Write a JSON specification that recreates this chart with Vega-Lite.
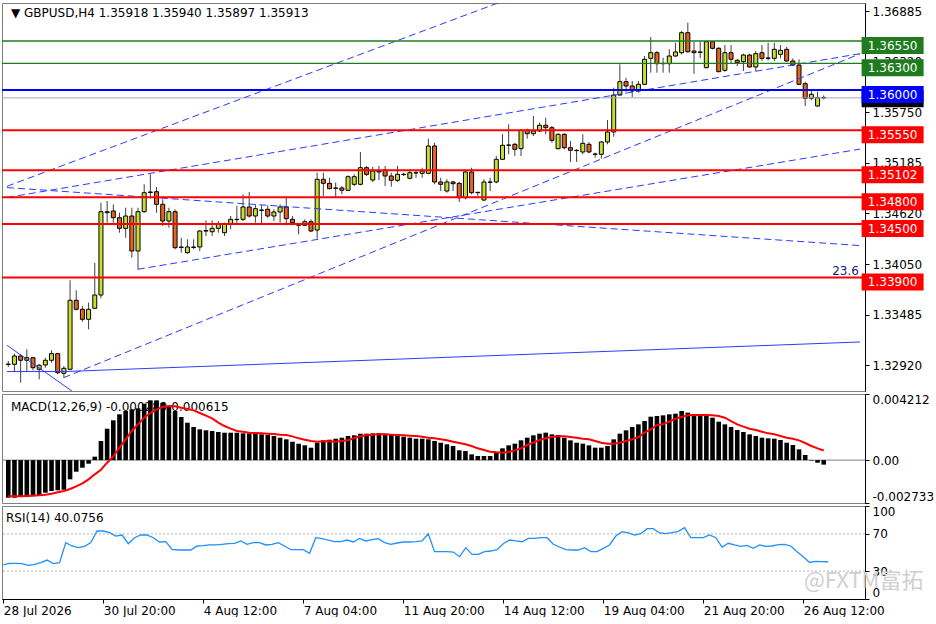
{
  "$schema": "https://vega.github.io/schema/vega-lite/v6.json",
  "background": "white",
  "padding": {"left": 1, "top": 2, "right": 0, "bottom": 0},
  "spacing": 3,
  "bounds": "flush",
  "config": {
    "view": {"stroke": "#808080", "strokeWidth": 1},
    "axis": {"labelFont": "DejaVu Sans", "labelFontSize": 12, "labelColor": "#000", "domainColor": "#000", "tickColor": "#000", "grid": false, "labelOverlap": false, "labelFlush": false, "labelBound": false},
    "text": {"font": "DejaVu Sans", "fontSize": 12}
  },
  "datasets": {
    "bars": [
      {"i":0,"o":1.32927,"h":1.32966,"l":1.32899,"c":1.32932,"m":-0.002395,"s":-0.002308,"r":36.6},
      {"i":1,"o":1.32929,"h":1.33048,"l":1.32854,"c":1.33022,"m":-0.002395,"s":-0.002308,"r":38.4},
      {"i":2,"o":1.33022,"h":1.33044,"l":1.32723,"c":1.32974,"m":-0.00235,"s":-0.002308,"r":38.4},
      {"i":3,"o":1.32974,"h":1.33097,"l":1.32854,"c":1.33003,"m":-0.00235,"s":-0.002287,"r":38.0},
      {"i":4,"o":1.33003,"h":1.33011,"l":1.32862,"c":1.32891,"m":-0.002287,"s":-0.002266,"r":36.2},
      {"i":5,"o":1.32873,"h":1.32932,"l":1.32761,"c":1.32918,"m":-0.002223,"s":-0.002244,"r":37.3},
      {"i":6,"o":1.32921,"h":1.33003,"l":1.32891,"c":1.32974,"m":-0.002077,"s":-0.002202,"r":39.1},
      {"i":7,"o":1.32974,"h":1.33086,"l":1.32947,"c":1.33048,"m":-0.001968,"s":-0.002138,"r":41.9},
      {"i":8,"o":1.33048,"h":1.33056,"l":1.32817,"c":1.32835,"m":-0.001924,"s":-0.002053,"r":38.0},
      {"i":9,"o":1.32828,"h":1.3291,"l":1.32779,"c":1.32884,"m":-0.001886,"s":-0.001968,"r":39.1},
      {"i":10,"o":1.32873,"h":1.3387,"l":1.32865,"c":1.33646,"m":-0.001223,"s":-0.001841,"r":60.6},
      {"i":11,"o":1.33646,"h":1.33758,"l":1.33534,"c":1.33545,"m":-0.000739,"s":-0.001671,"r":57.0},
      {"i":12,"o":1.33545,"h":1.33582,"l":1.33406,"c":1.33433,"m":-0.000484,"s":-0.00148,"r":55.2},
      {"i":13,"o":1.33433,"h":1.33619,"l":1.33321,"c":1.33545,"m":-0.000229,"s":-0.001225,"r":56.6},
      {"i":14,"o":1.33556,"h":1.34067,"l":1.33548,"c":1.33705,"m":0.000217,"s":-0.000907,"r":60.6},
      {"i":15,"o":1.33705,"h":1.34739,"l":1.33668,"c":1.34638,"m":0.001217,"s":-0.00061,"r":73.1},
      {"i":16,"o":1.34627,"h":1.34758,"l":1.34515,"c":1.34638,"m":0.002,"s":-0.000164,"r":73.1},
      {"i":17,"o":1.34646,"h":1.34721,"l":1.34515,"c":1.34571,"m":0.002535,"s":0.00024,"r":71.3},
      {"i":18,"o":1.34571,"h":1.34627,"l":1.34403,"c":1.34452,"m":0.002917,"s":0.000792,"r":67.7},
      {"i":19,"o":1.34452,"h":1.34683,"l":1.34347,"c":1.3459,"m":0.003128,"s":0.001323,"r":68.8},
      {"i":20,"o":1.3459,"h":1.34683,"l":1.34123,"c":1.34198,"m":0.003236,"s":0.001854,"r":59.5},
      {"i":21,"o":1.34198,"h":1.34683,"l":1.33993,"c":1.34638,"m":0.0033,"s":0.002278,"r":65.9},
      {"i":22,"o":1.34638,"h":1.34945,"l":1.34627,"c":1.34851,"m":0.003593,"s":0.002703,"r":68.8},
      {"i":23,"o":1.34859,"h":1.35057,"l":1.34788,"c":1.34853,"m":0.003809,"s":0.003,"r":68.8},
      {"i":24,"o":1.34862,"h":1.34915,"l":1.34627,"c":1.34721,"m":0.003809,"s":0.003234,"r":65.9},
      {"i":25,"o":1.34721,"h":1.34777,"l":1.34478,"c":1.34534,"m":0.003656,"s":0.003382,"r":61.3},
      {"i":26,"o":1.34534,"h":1.34683,"l":1.34459,"c":1.34638,"m":0.003446,"s":0.003446,"r":61.6},
      {"i":27,"o":1.34638,"h":1.34665,"l":1.34217,"c":1.34235,"m":0.003128,"s":0.003425,"r":53.4},
      {"i":28,"o":1.34243,"h":1.34347,"l":1.34179,"c":1.34237,"m":0.002745,"s":0.00334,"r":52.7},
      {"i":29,"o":1.34179,"h":1.34329,"l":1.34168,"c":1.34243,"m":0.002382,"s":0.003255,"r":52.7},
      {"i":30,"o":1.34237,"h":1.34329,"l":1.34217,"c":1.34243,"m":0.002108,"s":0.00317,"r":52.7},
      {"i":31,"o":1.34243,"h":1.34433,"l":1.34198,"c":1.34422,"m":0.001962,"s":0.003,"r":57.0},
      {"i":32,"o":1.34422,"h":1.34542,"l":1.34366,"c":1.34426,"m":0.001898,"s":0.00283,"r":57.3},
      {"i":33,"o":1.34414,"h":1.34542,"l":1.34366,"c":1.34452,"m":0.001854,"s":0.002661,"r":58.1},
      {"i":34,"o":1.34452,"h":1.34534,"l":1.34403,"c":1.34497,"m":0.00179,"s":0.002384,"r":58.1},
      {"i":35,"o":1.34403,"h":1.34515,"l":1.34366,"c":1.34497,"m":0.001745,"s":0.002172,"r":58.8},
      {"i":36,"o":1.34497,"h":1.3459,"l":1.34441,"c":1.34553,"m":0.001745,"s":0.002002,"r":59.5},
      {"i":37,"o":1.34549,"h":1.34702,"l":1.34497,"c":1.34553,"m":0.001745,"s":0.001854,"r":59.9},
      {"i":38,"o":1.34553,"h":1.34833,"l":1.34534,"c":1.34691,"m":0.001707,"s":0.001811,"r":62.4},
      {"i":39,"o":1.34691,"h":1.34859,"l":1.34571,"c":1.3459,"m":0.001707,"s":0.001747,"r":58.8},
      {"i":40,"o":1.3459,"h":1.34721,"l":1.34515,"c":1.34672,"m":0.001682,"s":0.001726,"r":60.6},
      {"i":41,"o":1.34657,"h":1.3471,"l":1.34508,"c":1.34654,"m":0.001643,"s":0.001705,"r":60.6},
      {"i":42,"o":1.34665,"h":1.3471,"l":1.34571,"c":1.3459,"m":0.001599,"s":0.001684,"r":58.1},
      {"i":43,"o":1.3459,"h":1.34665,"l":1.34534,"c":1.34635,"m":0.001535,"s":0.001663,"r":58.8},
      {"i":44,"o":1.34635,"h":1.34721,"l":1.34515,"c":1.34691,"m":0.001427,"s":0.00162,"r":60.6},
      {"i":45,"o":1.34691,"h":1.34803,"l":1.34486,"c":1.3456,"m":0.001325,"s":0.001599,"r":57.0},
      {"i":46,"o":1.34553,"h":1.3459,"l":1.34486,"c":1.34515,"m":0.001172,"s":0.001514,"r":53.0},
      {"i":47,"o":1.34497,"h":1.34512,"l":1.34385,"c":1.34486,"m":0.001045,"s":0.001387,"r":53.0},
      {"i":48,"o":1.34486,"h":1.34553,"l":1.34478,"c":1.34526,"m":0.000943,"s":0.001301,"r":53.0},
      {"i":49,"o":1.34526,"h":1.34553,"l":1.34411,"c":1.34422,"m":0.00079,"s":0.001217,"r":49.1},
      {"i":50,"o":1.34433,"h":1.35075,"l":1.34336,"c":1.35001,"m":0.001108,"s":0.001174,"r":65.9},
      {"i":51,"o":1.35001,"h":1.35075,"l":1.34814,"c":1.34956,"m":0.001261,"s":0.001196,"r":64.9},
      {"i":52,"o":1.34956,"h":1.35019,"l":1.34889,"c":1.34896,"m":0.0013,"s":0.001196,"r":63.4},
      {"i":53,"o":1.349,"h":1.34963,"l":1.34795,"c":1.34904,"m":0.001363,"s":0.001174,"r":61.6},
      {"i":54,"o":1.34904,"h":1.34926,"l":1.34833,"c":1.34878,"m":0.001427,"s":0.001217,"r":61.6},
      {"i":55,"o":1.34878,"h":1.35046,"l":1.3487,"c":1.3503,"m":0.001535,"s":0.001259,"r":63.4},
      {"i":56,"o":1.34945,"h":1.35057,"l":1.34926,"c":1.3503,"m":0.00158,"s":0.001408,"r":61.3},
      {"i":57,"o":1.34945,"h":1.35307,"l":1.34934,"c":1.35131,"m":0.001682,"s":0.001514,"r":65.2},
      {"i":58,"o":1.35131,"h":1.3515,"l":1.35038,"c":1.35057,"m":0.001682,"s":0.001578,"r":62.4},
      {"i":59,"o":1.34993,"h":1.35142,"l":1.34971,"c":1.35094,"m":0.001707,"s":0.00162,"r":63.8},
      {"i":60,"o":1.35094,"h":1.3515,"l":1.34993,"c":1.35083,"m":0.001726,"s":0.001641,"r":64.9},
      {"i":61,"o":1.35105,"h":1.3515,"l":1.34926,"c":1.35038,"m":0.001682,"s":0.001641,"r":60.6},
      {"i":62,"o":1.35038,"h":1.35075,"l":1.34918,"c":1.3499,"m":0.001643,"s":0.00162,"r":58.8},
      {"i":63,"o":1.3499,"h":1.3515,"l":1.34971,"c":1.35057,"m":0.001599,"s":0.001599,"r":60.2},
      {"i":64,"o":1.35057,"h":1.35075,"l":1.35038,"c":1.35054,"m":0.001491,"s":0.001578,"r":61.3},
      {"i":65,"o":1.35012,"h":1.35113,"l":1.35001,"c":1.35075,"m":0.001427,"s":0.001556,"r":61.3},
      {"i":66,"o":1.35075,"h":1.35094,"l":1.35019,"c":1.35072,"m":0.001363,"s":0.001535,"r":61.6},
      {"i":67,"o":1.35068,"h":1.35131,"l":1.35019,"c":1.35094,"m":0.001363,"s":0.001493,"r":62.4},
      {"i":68,"o":1.35068,"h":1.35456,"l":1.35057,"c":1.35374,"m":0.001325,"s":0.001429,"r":70.2},
      {"i":69,"o":1.35374,"h":1.35411,"l":1.34945,"c":1.34971,"m":0.001217,"s":0.001387,"r":50.9},
      {"i":70,"o":1.34971,"h":1.35019,"l":1.3487,"c":1.34945,"m":0.001108,"s":0.001323,"r":50.9},
      {"i":71,"o":1.3487,"h":1.35001,"l":1.34851,"c":1.34971,"m":0.001006,"s":0.001259,"r":50.9},
      {"i":72,"o":1.34971,"h":1.34982,"l":1.3487,"c":1.34952,"m":0.000898,"s":0.001174,"r":50.5},
      {"i":73,"o":1.34956,"h":1.34971,"l":1.34747,"c":1.34795,"m":0.000624,"s":0.001089,"r":45.5},
      {"i":74,"o":1.34795,"h":1.35094,"l":1.34777,"c":1.35083,"m":0.00058,"s":0.001005,"r":55.2},
      {"i":75,"o":1.35083,"h":1.35131,"l":1.34833,"c":1.34851,"m":0.000367,"s":0.000898,"r":48.0},
      {"i":76,"o":1.34851,"h":1.34862,"l":1.34814,"c":1.34855,"m":0.000261,"s":0.00075,"r":48.0},
      {"i":77,"o":1.34769,"h":1.35001,"l":1.34758,"c":1.34971,"m":0.000261,"s":0.000643,"r":50.9},
      {"i":78,"o":1.34971,"h":1.35019,"l":1.3487,"c":1.34967,"m":0.000261,"s":0.000537,"r":51.6},
      {"i":79,"o":1.34971,"h":1.35262,"l":1.34956,"c":1.35225,"m":0.000473,"s":0.000495,"r":53.0},
      {"i":80,"o":1.35225,"h":1.35505,"l":1.35217,"c":1.35382,"m":0.00075,"s":0.000473,"r":59.5},
      {"i":81,"o":1.35382,"h":1.35617,"l":1.35281,"c":1.35385,"m":0.000941,"s":0.000516,"r":63.4},
      {"i":82,"o":1.35393,"h":1.35411,"l":1.35262,"c":1.35337,"m":0.001047,"s":0.000622,"r":62.4},
      {"i":83,"o":1.35344,"h":1.35561,"l":1.35262,"c":1.3555,"m":0.001259,"s":0.00075,"r":61.6},
      {"i":84,"o":1.3555,"h":1.35568,"l":1.35456,"c":1.35512,"m":0.001429,"s":0.000962,"r":65.2},
      {"i":85,"o":1.35512,"h":1.3571,"l":1.35486,"c":1.35542,"m":0.001578,"s":0.00111,"r":65.2},
      {"i":86,"o":1.35542,"h":1.35635,"l":1.35531,"c":1.35606,"m":0.001684,"s":0.00128,"r":65.9},
      {"i":87,"o":1.35606,"h":1.35691,"l":1.35505,"c":1.35579,"m":0.001747,"s":0.001387,"r":65.9},
      {"i":88,"o":1.35579,"h":1.35598,"l":1.35411,"c":1.35438,"m":0.001641,"s":0.001471,"r":58.8},
      {"i":89,"o":1.35344,"h":1.35516,"l":1.35337,"c":1.35505,"m":0.001599,"s":0.001514,"r":55.9},
      {"i":90,"o":1.35505,"h":1.35516,"l":1.35337,"c":1.35355,"m":0.001429,"s":0.001514,"r":53.0},
      {"i":91,"o":1.35355,"h":1.3543,"l":1.35195,"c":1.35326,"m":0.001259,"s":0.001471,"r":52.7},
      {"i":92,"o":1.35326,"h":1.35337,"l":1.35195,"c":1.35322,"m":0.00111,"s":0.001429,"r":52.7},
      {"i":93,"o":1.35307,"h":1.35505,"l":1.35281,"c":1.35404,"m":0.001047,"s":0.001365,"r":55.2},
      {"i":94,"o":1.35393,"h":1.35419,"l":1.35292,"c":1.35307,"m":0.000941,"s":0.001323,"r":50.9},
      {"i":95,"o":1.35284,"h":1.35299,"l":1.35243,"c":1.35281,"m":0.000792,"s":0.001217,"r":50.9},
      {"i":96,"o":1.35281,"h":1.3543,"l":1.35232,"c":1.35419,"m":0.000792,"s":0.00111,"r":54.5},
      {"i":97,"o":1.35419,"h":1.35665,"l":1.35393,"c":1.35531,"m":0.000898,"s":0.001047,"r":58.1},
      {"i":98,"o":1.35531,"h":1.36027,"l":1.35478,"c":1.35945,"m":0.001323,"s":0.001047,"r":67.7},
      {"i":99,"o":1.35945,"h":1.36289,"l":1.35934,"c":1.36094,"m":0.001684,"s":0.00111,"r":72.4},
      {"i":100,"o":1.36094,"h":1.36139,"l":1.35982,"c":1.36046,"m":0.001896,"s":0.001217,"r":71.0},
      {"i":101,"o":1.36046,"h":1.36102,"l":1.35923,"c":1.3599,"m":0.002108,"s":0.001323,"r":68.8},
      {"i":102,"o":1.3599,"h":1.36102,"l":1.35971,"c":1.36065,"m":0.002278,"s":0.001471,"r":70.2},
      {"i":103,"o":1.36065,"h":1.36382,"l":1.36057,"c":1.36345,"m":0.002491,"s":0.001747,"r":75.6},
      {"i":104,"o":1.36356,"h":1.36595,"l":1.36195,"c":1.36419,"m":0.002767,"s":0.00196,"r":75.6},
      {"i":105,"o":1.36419,"h":1.36438,"l":1.36195,"c":1.36296,"m":0.002809,"s":0.002236,"r":71.0},
      {"i":106,"o":1.36296,"h":1.36363,"l":1.36195,"c":1.363,"m":0.002852,"s":0.002278,"r":70.2},
      {"i":107,"o":1.36296,"h":1.36457,"l":1.36195,"c":1.36382,"m":0.002915,"s":0.002448,"r":71.3},
      {"i":108,"o":1.36382,"h":1.36531,"l":1.36371,"c":1.36427,"m":0.002958,"s":0.002639,"r":72.8},
      {"i":109,"o":1.36419,"h":1.36662,"l":1.36401,"c":1.36643,"m":0.003128,"s":0.002745,"r":76.7},
      {"i":110,"o":1.36643,"h":1.36755,"l":1.36419,"c":1.3643,"m":0.003022,"s":0.002852,"r":65.9},
      {"i":111,"o":1.36438,"h":1.36542,"l":1.36184,"c":1.36419,"m":0.002915,"s":0.002873,"r":65.9},
      {"i":112,"o":1.36427,"h":1.36542,"l":1.36356,"c":1.36423,"m":0.002915,"s":0.002873,"r":65.9},
      {"i":113,"o":1.36251,"h":1.3655,"l":1.36244,"c":1.36542,"m":0.002873,"s":0.002873,"r":68.8},
      {"i":114,"o":1.36542,"h":1.3655,"l":1.36457,"c":1.36468,"m":0.002703,"s":0.002852,"r":65.9},
      {"i":115,"o":1.36468,"h":1.36483,"l":1.36203,"c":1.36206,"m":0.002448,"s":0.002809,"r":55.9},
      {"i":116,"o":1.36222,"h":1.36505,"l":1.36206,"c":1.36419,"m":0.002278,"s":0.002703,"r":59.9},
      {"i":117,"o":1.36419,"h":1.36505,"l":1.36296,"c":1.36345,"m":0.002108,"s":0.002491,"r":58.1},
      {"i":118,"o":1.36334,"h":1.36345,"l":1.3627,"c":1.36307,"m":0.001917,"s":0.002278,"r":56.6},
      {"i":119,"o":1.36318,"h":1.36408,"l":1.36214,"c":1.36393,"m":0.00179,"s":0.00213,"r":57.7},
      {"i":120,"o":1.36393,"h":1.36408,"l":1.36251,"c":1.36259,"m":0.001641,"s":0.002002,"r":54.5},
      {"i":121,"o":1.36259,"h":1.36438,"l":1.36214,"c":1.36408,"m":0.001535,"s":0.001917,"r":58.1},
      {"i":122,"o":1.36419,"h":1.36505,"l":1.36326,"c":1.36356,"m":0.001429,"s":0.001811,"r":56.6},
      {"i":123,"o":1.36356,"h":1.36531,"l":1.36334,"c":1.3636,"m":0.001387,"s":0.001705,"r":57.0},
      {"i":124,"o":1.36356,"h":1.36531,"l":1.36326,"c":1.36457,"m":0.001365,"s":0.001641,"r":58.4},
      {"i":125,"o":1.36401,"h":1.36505,"l":1.36356,"c":1.36446,"m":0.00128,"s":0.001535,"r":58.8},
      {"i":126,"o":1.36457,"h":1.36483,"l":1.36318,"c":1.36326,"m":0.00111,"s":0.001429,"r":57.0},
      {"i":127,"o":1.36326,"h":1.36356,"l":1.3627,"c":1.36281,"m":0.000962,"s":0.001365,"r":50.9},
      {"i":128,"o":1.36281,"h":1.36345,"l":1.36057,"c":1.36065,"m":0.000686,"s":0.001259,"r":45.5},
      {"i":129,"o":1.36072,"h":1.36094,"l":1.35822,"c":1.35908,"m":0.000325,"s":0.001089,"r":39.3},
      {"i":130,"o":1.35908,"h":1.3599,"l":1.35886,"c":1.35953,"m":-0.00003,"s":0.000898,"r":40.4},
      {"i":131,"o":1.35822,"h":1.35982,"l":1.35816,"c":1.35915,"m":-0.000166,"s":0.00075,"r":40.1},
      {"i":132,"o":1.35918,"h":1.3594,"l":1.35897,"c":1.35913,"m":-0.000289,"s":0.000615,"r":40.0756}
    ],
    "levels": [
      {"p": 1.3655, "k": "g"},
      {"p": 1.363, "k": "g"},
      {"p": 1.36, "k": "b"},
      {"p": 1.3555, "k": "r"},
      {"p": 1.35102, "k": "r"},
      {"p": 1.348, "k": "r"},
      {"p": 1.345, "k": "r"},
      {"p": 1.339, "k": "r"}
    ],
    "trend": [
      {"id": "A", "i": -0.208, "p": 1.34923}, {"id": "A", "i": 79.28, "p": 1.36976},
      {"id": "B", "i": -0.208, "p": 1.34797}, {"id": "B", "i": 137.87, "p": 1.36408},
      {"id": "C", "i": 8.96, "p": 1.32779}, {"id": "C", "i": 137.87, "p": 1.36406},
      {"id": "D", "i": 20.96, "p": 1.33993}, {"id": "D", "i": 137.87, "p": 1.35339},
      {"id": "E", "i": -0.208, "p": 1.34908}, {"id": "E", "i": 137.87, "p": 1.34259}
    ],
    "trendSolid": [
      {"id": "G", "i": -0.208, "p": 1.32848}, {"id": "G", "i": 9.07, "p": 1.32848}, {"id": "G", "i": 137.87, "p": 1.33179},
      {"id": "H", "i": -0.208, "p": 1.33142}, {"id": "H", "i": 10.3, "p": 1.3263}
    ],
    "rsiLevels": [{"v": 70}, {"v": 30}],
    "headers": [{"t": "x"}]
  },
  "vconcat": [
    {
      "width": 863,
      "height": 388,
      "resolve": {"axis": {"x": "independent", "y": "independent"}},
      "layer": [
        {
          "data": {"name": "bars"},
          "mark": {"type": "rule", "color": "#404040", "strokeWidth": 1, "clip": true},
          "encoding": {
            "x": {"field": "i", "type": "quantitative", "scale": {"domain": [-0.208, 137.872], "nice": false, "zero": false}, "axis": null},
            "y": {"field": "l", "type": "quantitative", "scale": {"domain": [1.3263, 1.369756], "nice": false, "zero": false},
              "axis": {"orient": "right", "title": null, "values": [1.3292, 1.33485, 1.3405, 1.3462, 1.35185, 1.3575, 1.3632, 1.36885], "format": ".5f", "tickSize": 4, "labelPadding": 3}},
            "y2": {"field": "h"}
          }
        },
        {
          "data": {"name": "bars"},
          "mark": {"type": "bar", "width": 4, "stroke": "#000", "strokeWidth": 1, "clip": true},
          "encoding": {
            "x": {"field": "i", "type": "quantitative", "axis": null},
            "y": {"field": "o", "type": "quantitative", "axis": null},
            "y2": {"field": "c"},
            "fill": {"condition": {"test": "datum.c >= datum.o", "value": "#c9dc32"}, "value": "#e8641e"}
          }
        },
        {
          "data": {"name": "bars"},
          "transform": [{"filter": "datum.i == 132"}],
          "mark": {"type": "rule", "color": "#a3a3bb", "strokeWidth": 1, "clip": true},
          "encoding": {"y": {"field": "c", "type": "quantitative", "axis": null}}
        },
        {
          "data": {"name": "trend"},
          "mark": {"type": "line", "color": "#2a3cff", "strokeWidth": 1, "strokeDash": [7, 4], "clip": true},
          "encoding": {
            "x": {"field": "i", "type": "quantitative", "axis": null},
            "y": {"field": "p", "type": "quantitative", "axis": null},
            "detail": {"field": "id", "type": "nominal"}
          }
        },
        {
          "data": {"name": "trendSolid"},
          "mark": {"type": "line", "color": "#2a3cff", "strokeWidth": 1, "clip": true},
          "encoding": {
            "x": {"field": "i", "type": "quantitative", "axis": null},
            "y": {"field": "p", "type": "quantitative", "axis": null},
            "detail": {"field": "id", "type": "nominal"}
          }
        },
        {
          "data": {"name": "levels"},
          "transform": [{"filter": "datum.k == 'g'"}],
          "mark": {"type": "rule", "strokeWidth": 1.3, "clip": true},
          "encoding": {
            "y": {"field": "p", "type": "quantitative", "axis": null},
            "color": {"field": "k", "type": "nominal", "scale": {"domain": ["g", "b", "r"], "range": ["#1e7b1e", "#0000ff", "#ff0000"]}, "legend": null}
          }
        },
        {
          "data": {"name": "levels"},
          "transform": [{"filter": "datum.k != 'g'"}],
          "mark": {"type": "rule", "strokeWidth": 2, "clip": true},
          "encoding": {
            "y": {"field": "p", "type": "quantitative", "axis": null},
            "color": {"field": "k", "type": "nominal", "legend": null}
          }
        },
        {
          "data": {"name": "bars"},
          "transform": [{"filter": "datum.i == 132"}],
          "mark": {"type": "point", "shape": "M-1,-0.274H1V0.274H-1Z", "size": 3844, "filled": true, "opacity": 1, "strokeWidth": 0, "color": "#000", "yOffset": 1},
          "encoding": {
            "x": {"datum": 143.15, "type": "quantitative", "axis": null},
            "y": {"field": "c", "type": "quantitative", "axis": null}
          }
        },
        {
          "data": {"name": "levels"},
          "mark": {"type": "point", "shape": "M-1,-0.274H1V0.274H-1Z", "size": 3844, "filled": true, "opacity": 1, "strokeWidth": 0, "yOffset": 4.5},
          "encoding": {
            "x": {"datum": 143.15, "type": "quantitative", "axis": null},
            "y": {"field": "p", "type": "quantitative", "axis": null},
            "color": {"field": "k", "type": "nominal", "legend": null}
          }
        },
        {
          "data": {"name": "levels"},
          "mark": {"type": "text", "color": "#ffffff", "align": "center", "baseline": "middle", "dy": 4.5, "fontSize": 12},
          "encoding": {
            "x": {"datum": 143.15, "type": "quantitative", "axis": null},
            "y": {"field": "p", "type": "quantitative", "axis": null},
            "text": {"field": "p", "type": "quantitative", "format": ".5f"}
          }
        },
        {
          "data": {"name": "headers"},
          "mark": {"type": "text", "color": "#000", "align": "left", "baseline": "middle", "fontSize": 12},
          "encoding": {
            "x": {"datum": 0.43, "type": "quantitative", "axis": null},
            "y": {"datum": 1.36864, "type": "quantitative", "axis": null},
            "text": {"value": "▼  GBPUSD,H4  1.35918 1.35940 1.35897 1.35913"}
          }
        },
        {
          "data": {"name": "headers"},
          "mark": {"type": "text", "color": "#1a1a7a", "align": "right", "baseline": "alphabetic", "fontSize": 12},
          "encoding": {
            "x": {"datum": 137.7, "type": "quantitative", "axis": null},
            "y": {"datum": 1.3393, "type": "quantitative", "axis": null},
            "text": {"value": "23.6"}
          }
        }
      ]
    },
    {
      "width": 863,
      "height": 109,
      "resolve": {"axis": {"x": "independent", "y": "independent"}},
      "layer": [
        {
          "data": {"name": "headers"},
          "mark": {"type": "text", "color": "#000", "align": "left", "baseline": "middle", "fontSize": 12},
          "encoding": {
            "x": {"datum": 0.43, "type": "quantitative", "scale": {"domain": [-0.208, 137.872], "nice": false, "zero": false}, "axis": null},
            "y": {"datum": 0.003382, "type": "quantitative", "scale": {"domain": [-0.002733, 0.004212], "nice": false, "zero": false},
              "axis": {"orient": "right", "title": null, "values": [0.004212, 0, -0.002733], "tickSize": 4, "labelPadding": 3,
                "labelExpr": "datum.value > 0.004 ? '0.004212' : (datum.value < -0.002 ? '-0.002733' : '0.00')",
                "labelBaseline": {"condition": [{"test": "datum.value > 0.004", "value": "top"}, {"test": "datum.value < -0.002", "value": "bottom"}], "value": "middle"}}},
            "text": {"value": "MACD(12,26,9) -0.000289 0.000615"}
          }
        },
        {
          "data": {"name": "headers"},
          "mark": {"type": "rule", "color": "#808080", "strokeWidth": 1, "clip": true},
          "encoding": {"y": {"datum": 0, "type": "quantitative", "axis": null}}
        },
        {
          "data": {"name": "bars"},
          "mark": {"type": "bar", "width": 4.6, "color": "#000", "clip": true},
          "encoding": {
            "x": {"field": "i", "type": "quantitative", "axis": null},
            "y": {"field": "m", "type": "quantitative", "axis": null},
            "y2": {"datum": 0}
          }
        },
        {
          "data": {"name": "bars"},
          "mark": {"type": "line", "color": "#ff0000", "strokeWidth": 2, "clip": true},
          "encoding": {
            "x": {"field": "i", "type": "quantitative", "axis": null},
            "y": {"field": "s", "type": "quantitative", "axis": null}
          }
        }
      ]
    },
    {
      "width": 863,
      "height": 93,
      "resolve": {"axis": {"x": "independent", "y": "independent"}},
      "layer": [
        {
          "data": {"name": "headers"},
          "mark": {"type": "text", "color": "#000", "align": "left", "baseline": "middle", "fontSize": 12},
          "encoding": {
            "x": {"datum": 0.43, "type": "quantitative", "scale": {"domain": [-0.208, 137.872], "nice": false, "zero": false}, "axis": null},
            "y": {"datum": 87.4, "type": "quantitative", "scale": {"domain": [0, 100], "nice": false, "zero": false},
              "axis": {"orient": "right", "title": null, "values": [100, 70, 30, 0], "tickSize": 4, "labelPadding": 3,
                "labelBaseline": {"condition": [{"test": "datum.value > 99", "value": "top"}, {"test": "datum.value < 1", "value": "bottom"}], "value": "middle"}}},
            "text": {"value": "RSI(14) 40.0756"}
          }
        },
        {
          "data": {"name": "rsiLevels"},
          "mark": {"type": "rule", "color": "#b4b4b4", "strokeWidth": 1, "strokeDash": [2, 2], "clip": true},
          "encoding": {"y": {"field": "v", "type": "quantitative", "axis": null}}
        },
        {
          "data": {"name": "headers"},
          "mark": {"type": "text", "color": "#cfcfcf", "align": "left", "baseline": "middle", "fontSize": 22, "font": "Noto Sans CJK SC"},
          "encoding": {
            "x": {"datum": 128.1, "type": "quantitative", "axis": null},
            "y": {"datum": 19.4, "type": "quantitative", "axis": null},
            "text": {"value": "@FXTM富拓"}
          }
        },
        {
          "data": {"name": "bars"},
          "mark": {"type": "line", "color": "#1e90ff", "strokeWidth": 1.3, "clip": true},
          "encoding": {
            "x": {"field": "i", "type": "quantitative",
              "axis": {"title": null, "values": [0, 16, 32, 48, 64, 80, 96, 112, 128], "tickSize": 4, "labelPadding": 2, "labelAlign": "left",
                "labelExpr": "['28 Jul 2026','30 Jul 20:00','4 Aug 12:00','7 Aug 04:00','11 Aug 20:00','14 Aug 12:00','19 Aug 04:00','21 Aug 20:00','26 Aug 12:00'][round(datum.value / 16)]"}},
            "y": {"field": "r", "type": "quantitative", "axis": null}
          }
        }
      ]
    }
  ]
}
